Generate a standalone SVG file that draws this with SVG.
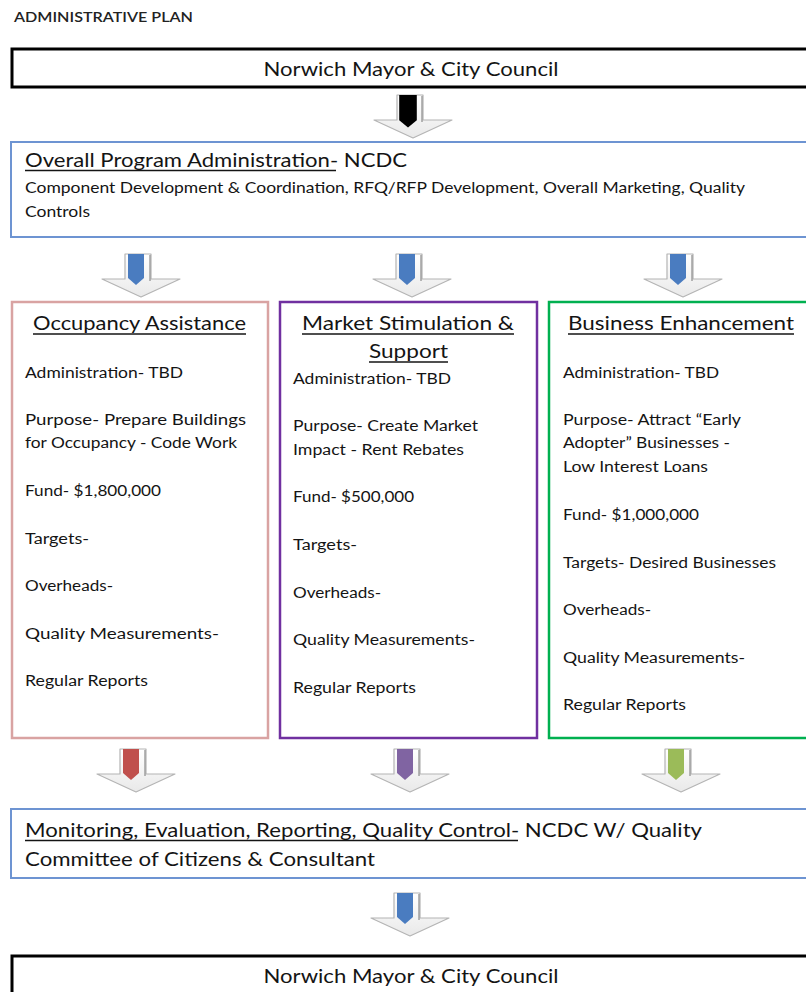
<svg xmlns="http://www.w3.org/2000/svg" width="806" height="992" viewBox="0 0 806 992">
  <defs>
    <style>
      text { font-family: Lato, "Open Sans", "Liberation Sans", sans-serif; fill: #141414; }
      .cap { font-size: 13.5px; font-weight: 600; fill: #222; }
      .head { font-size: 19px; }
      .sub { font-size: 15px; }
      .item { font-size: 15.5px; }
      .ttl { font-size: 19px; }
      .ul { stroke: #141414; stroke-width: 1.4; }
      .box { fill: #ffffff; }
      .chev { fill: url(#chevFill); stroke: #b4b4b4; stroke-width: 1.2; stroke-linejoin: round; }
      .rail { stroke: #9a9a9a; stroke-width: 1.4; }
    </style>
    <linearGradient id="chevFill" x1="0" y1="0" x2="0" y2="1">
      <stop offset="0" stop-color="#ffffff"/>
      <stop offset="1" stop-color="#e9e9e9"/>
    </linearGradient>
    <!-- down arrow: white block arrow with a coloured inset bar, origin at bar centre / top -->
    <g id="arrowBase">
      <polygon class="chev" points="-11,0 15,0 15,25 44,25 5,43 -34,25 -11,25"/>
      <line class="rail" x1="14" y1="1" x2="14" y2="27"/>
    </g>
    <polygon id="bar" points="-8,0 8,0 8,24 0,31 -8,24"/>
  </defs>

  <rect width="806" height="992" fill="#ffffff"/>

  <text class="cap" x="14" y="22" textLength="179" lengthAdjust="spacingAndGlyphs">ADMINISTRATIVE PLAN</text>

  <!-- connectors -->
  <g id="connectors">
    <g transform="translate(408,95)"><use href="#arrowBase"/><use href="#bar" fill="#000000" transform="scale(1.1,1.05)"/></g>
    <g transform="translate(136,254)"><use href="#arrowBase"/><use href="#bar" fill="#4a7cc0"/></g>
    <g transform="translate(407,254)"><use href="#arrowBase"/><use href="#bar" fill="#4a7cc0"/></g>
    <g transform="translate(678,254)"><use href="#arrowBase"/><use href="#bar" fill="#4a7cc0"/></g>
    <g transform="translate(131,749)"><use href="#arrowBase"/><use href="#bar" fill="#c0504d"/></g>
    <g transform="translate(405,749)"><use href="#arrowBase"/><use href="#bar" fill="#8064a2"/></g>
    <g transform="translate(676,749)"><use href="#arrowBase"/><use href="#bar" fill="#9bbb59"/></g>
    <g transform="translate(405,893)"><use href="#arrowBase"/><use href="#bar" fill="#4a7cc0"/></g>
  </g>

  <!-- top council -->
  <g id="council-top">
    <rect class="box" x="12" y="49" width="810" height="38" stroke="#000" stroke-width="3"/>
    <text class="head" x="411" y="76" text-anchor="middle" textLength="295" lengthAdjust="spacingAndGlyphs">Norwich Mayor &amp; City Council</text>
  </g>

  <!-- overall administration -->
  <g id="overall-admin">
    <rect class="box" x="11" y="142" width="810" height="95" stroke="#6d94d2" stroke-width="2"/>
    <text class="head" x="25" y="167" textLength="382" lengthAdjust="spacingAndGlyphs">Overall Program Administration- NCDC</text>
    <line class="ul" x1="25" y1="170.5" x2="336" y2="170.5"/>
    <text class="sub" x="25" y="193" textLength="720" lengthAdjust="spacingAndGlyphs">Component Development &amp; Coordination, RFQ/RFP Development, Overall Marketing, Quality</text>
    <text class="sub" x="25" y="217" textLength="65" lengthAdjust="spacingAndGlyphs">Controls</text>
  </g>

  <!-- occupancy assistance -->
  <g id="occupancy">
    <rect class="box" x="12" y="302" width="256" height="436" stroke="#d9a3a2" stroke-width="2.5"/>
    <text class="ttl" x="33" y="330" textLength="213" lengthAdjust="spacingAndGlyphs">Occupancy Assistance</text>
    <line class="ul" x1="33" y1="334" x2="246" y2="334"/>
    <text class="item" x="25" y="378" textLength="158" lengthAdjust="spacingAndGlyphs">Administration- TBD</text>
    <text class="item" x="25" y="425" textLength="221" lengthAdjust="spacingAndGlyphs">Purpose- Prepare Buildings</text>
    <text class="item" x="25" y="448" textLength="212" lengthAdjust="spacingAndGlyphs">for Occupancy - Code Work</text>
    <text class="item" x="25" y="496" textLength="136" lengthAdjust="spacingAndGlyphs">Fund- $1,800,000</text>
    <text class="item" x="25" y="544" textLength="64" lengthAdjust="spacingAndGlyphs">Targets-</text>
    <text class="item" x="25" y="591" textLength="88" lengthAdjust="spacingAndGlyphs">Overheads-</text>
    <text class="item" x="25" y="639" textLength="194" lengthAdjust="spacingAndGlyphs">Quality Measurements-</text>
    <text class="item" x="25" y="686" textLength="123" lengthAdjust="spacingAndGlyphs">Regular Reports</text>
  </g>

  <!-- market stimulation -->
  <g id="market">
    <rect class="box" x="280" y="302" width="257" height="436" stroke="#7030a0" stroke-width="2.5"/>
    <text class="ttl" x="302" y="330" textLength="212" lengthAdjust="spacingAndGlyphs">Market Stimulation &amp;</text>
    <line class="ul" x1="302" y1="334" x2="514" y2="334"/>
    <text class="ttl" x="369" y="358" textLength="79" lengthAdjust="spacingAndGlyphs">Support</text>
    <line class="ul" x1="369" y1="362" x2="448" y2="362"/>
    <text class="item" x="293" y="384" textLength="158" lengthAdjust="spacingAndGlyphs">Administration- TBD</text>
    <text class="item" x="293" y="431" textLength="185" lengthAdjust="spacingAndGlyphs">Purpose- Create Market</text>
    <text class="item" x="293" y="455" textLength="171" lengthAdjust="spacingAndGlyphs">Impact - Rent Rebates</text>
    <text class="item" x="293" y="502" textLength="121" lengthAdjust="spacingAndGlyphs">Fund- $500,000</text>
    <text class="item" x="293" y="550" textLength="64" lengthAdjust="spacingAndGlyphs">Targets-</text>
    <text class="item" x="293" y="598" textLength="88" lengthAdjust="spacingAndGlyphs">Overheads-</text>
    <text class="item" x="293" y="645" textLength="182" lengthAdjust="spacingAndGlyphs">Quality Measurements-</text>
    <text class="item" x="293" y="693" textLength="123" lengthAdjust="spacingAndGlyphs">Regular Reports</text>
  </g>

  <!-- business enhancement -->
  <g id="business">
    <rect class="box" x="549" y="302" width="270" height="436" stroke="#00b050" stroke-width="2.5"/>
    <text class="ttl" x="568" y="330" textLength="226" lengthAdjust="spacingAndGlyphs">Business Enhancement</text>
    <line class="ul" x1="568" y1="334" x2="794" y2="334"/>
    <text class="item" x="563" y="378" textLength="156" lengthAdjust="spacingAndGlyphs">Administration- TBD</text>
    <text class="item" x="563" y="425" textLength="178" lengthAdjust="spacingAndGlyphs">Purpose- Attract “Early</text>
    <text class="item" x="563" y="448" textLength="167" lengthAdjust="spacingAndGlyphs">Adopter” Businesses -</text>
    <text class="item" x="563" y="472" textLength="145" lengthAdjust="spacingAndGlyphs">Low Interest Loans</text>
    <text class="item" x="563" y="520" textLength="136" lengthAdjust="spacingAndGlyphs">Fund- $1,000,000</text>
    <text class="item" x="563" y="568" textLength="213" lengthAdjust="spacingAndGlyphs">Targets- Desired Businesses</text>
    <text class="item" x="563" y="615" textLength="88" lengthAdjust="spacingAndGlyphs">Overheads-</text>
    <text class="item" x="563" y="663" textLength="182" lengthAdjust="spacingAndGlyphs">Quality Measurements-</text>
    <text class="item" x="563" y="710" textLength="123" lengthAdjust="spacingAndGlyphs">Regular Reports</text>
  </g>

  <!-- monitoring -->
  <g id="monitoring">
    <rect class="box" x="11" y="809" width="810" height="69" stroke="#6d94d2" stroke-width="2"/>
    <text class="head" x="25" y="837" textLength="677" lengthAdjust="spacingAndGlyphs">Monitoring, Evaluation, Reporting, Quality Control- NCDC W/ Quality</text>
    <line class="ul" x1="25" y1="840.5" x2="518" y2="840.5"/>
    <text class="head" x="25" y="866" textLength="350" lengthAdjust="spacingAndGlyphs">Committee of Citizens &amp; Consultant</text>
  </g>

  <!-- bottom council -->
  <g id="council-bottom">
    <rect class="box" x="12" y="956" width="810" height="60" stroke="#000" stroke-width="3"/>
    <text class="head" x="411" y="983" text-anchor="middle" textLength="295" lengthAdjust="spacingAndGlyphs">Norwich Mayor &amp; City Council</text>
  </g>
</svg>
